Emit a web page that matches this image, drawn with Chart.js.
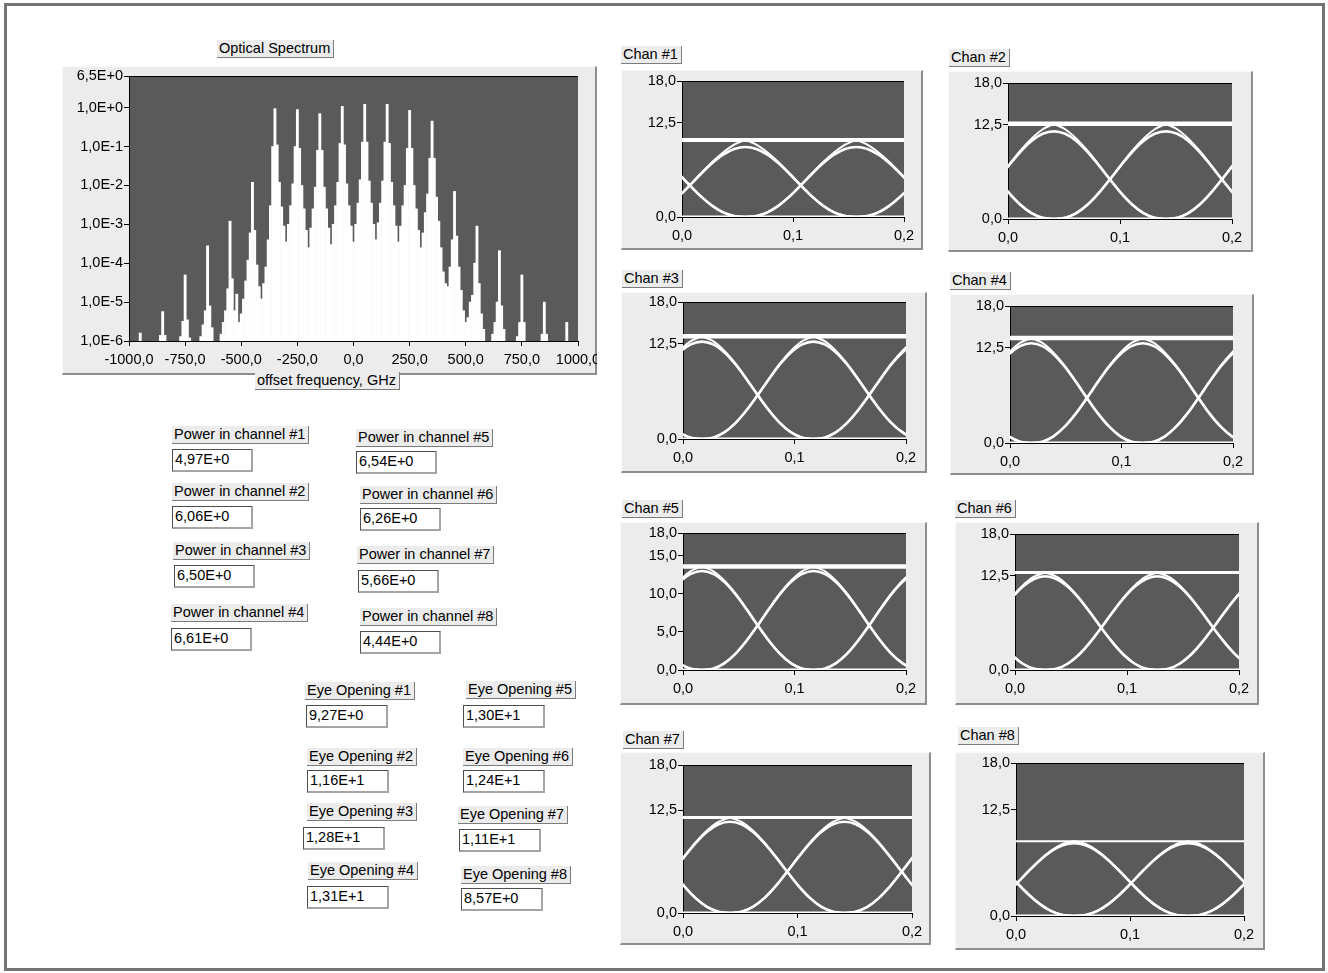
<!DOCTYPE html>
<html>
<head>
<meta charset="utf-8">
<script src="https://cdn.jsdelivr.net/npm/chart.js@4.4.1/dist/chart.umd.min.js"></script>
<style>
  html, body { margin: 0; padding: 0; background: #fff; }
  body { width: 1328px; height: 973px; position: relative; overflow: hidden;
         font-family: "Liberation Sans", Arial, sans-serif; font-size: 14.5px; color: #000; }
  .frame { position: absolute; left: 4px; top: 3px; width: 1321px; height: 968px;
           box-sizing: border-box; border: 3px solid #747474; }
  .panel { position: absolute; box-sizing: border-box; background: #ececec;
           border-style: solid; border-width: 1px 2px 2px 1px;
           border-color: #fafafa #8e8e8e #8e8e8e #fafafa; }
  canvas { position: absolute; }
  .lbl { position: absolute; height: 18px; box-sizing: border-box; background: #ececec;
         border-style: solid; border-width: 0 1px 1px 0; border-color: #7c7c7c;
         line-height: 17px; padding: 0 3px 0 2px; white-space: nowrap; z-index: 3; }
  .val { position: absolute; height: 23px; box-sizing: border-box; background: #fff;
         border-style: solid; border-width: 1px 2px 2px 1px;
         border-color: #4e4e4e #a4a4a4 #a4a4a4 #4e4e4e;
         line-height: 19px; padding-left: 2px; white-space: nowrap; z-index: 3; }
</style>
</head>
<body>
<div class="frame"></div>
<script>
// ---------------- Optical spectrum (power per 10 GHz bin, -1000 ... +1000 GHz) ----------------
const specStartGHz = -1000;
const specStepGHz = 10;
const specPower = [
  null, null, null, null, null, 1.6e-6, null, null, null, null,          // -1000 .. -910
  null, null, null, null, 1.4e-6, 5.7e-6, 1.4e-6, null, null, null,      // -900 .. -810
  null, null, null, 1.3e-6, 3.2e-6, 5e-5, 3.5e-6, 1.2e-6, null, null,    // -800 .. -710
  null, null, 1.3e-6, 2.6e-6, 6e-6, 2.8e-4, 8e-6, 2.2e-6, null, null,   // -700 .. -610
  null, 1.5e-6, 3e-6, 6e-6, 2.2e-5, 1.2e-3, 4e-5, 6e-6, 1.6e-5, 3e-6,   // -600 .. -510
  5e-6, 1.2e-5, 3.5e-5, 1.2e-4, 6e-4, 1.2e-2, 7e-4, 9e-5, 2.5e-5, 1.2e-5, // -500 .. -410
  3e-5, 8e-5, 4e-4, 3e-3, 1e-1, 0.94, 1.1e-1, 1.2e-2, 2.8e-3, 9e-4,     // -400 .. -310
  3.5e-4, 1e-3, 3e-3, 1.1e-2, 1e-1, 0.89, 9e-2, 1e-2, 2.5e-3, 7e-4,     // -300 .. -210
  2.5e-4, 8e-4, 2.5e-3, 9e-3, 8e-2, 0.70, 8e-2, 9e-3, 2.5e-3, 8e-4,     // -200 .. -110
  3e-4, 1e-3, 3e-3, 1.2e-2, 1.2e-1, 1.08, 1.1e-1, 1.1e-2, 3e-3, 9e-4,   // -100 .. -10
  3.5e-4, 1e-3, 3.5e-3, 1.4e-2, 1.3e-1, 1.22, 1.3e-1, 1.3e-2, 3.5e-3, 1e-3, // 0 .. 90
  4e-4, 1.1e-3, 3.5e-3, 1.3e-2, 1.3e-1, 1.22, 1.2e-1, 1.2e-2, 3e-3, 9e-4,  // 100 .. 190
  3.5e-4, 9e-4, 3e-3, 1e-2, 9e-2, 0.85, 9e-2, 1e-2, 2.5e-3, 7e-4,       // 200 .. 290
  2.5e-4, 6e-4, 2e-3, 6e-3, 5e-2, 0.45, 5e-2, 5e-3, 1.2e-3, 2.5e-4,     // 300 .. 390
  6e-5, 3e-5, 2.5e-5, 8e-5, 4e-4, 7e-3, 5e-4, 8e-5, 2e-5, 6e-6,         // 400 .. 490
  3e-6, 4e-6, 1e-5, 1.5e-5, 1e-4, 9e-4, 3e-5, 5e-6, 2e-6, null,         // 500 .. 590
  null, null, 1.5e-6, 3e-6, 1e-5, 2.1e-4, 8e-6, 2e-6, null, null,       // 600 .. 690
  null, null, null, 1.3e-6, 3e-6, 5e-5, 3e-6, null, null, null,         // 700 .. 790
  null, null, null, null, 1.5e-6, 1e-5, 1.5e-6, null, null, null,       // 800 .. 890
  null, null, null, null, null, 3e-6, null, null, null, null,           // 900 .. 990
  null                                                                   // 1000
];
const spectrumYTicks = [1e-6, 1e-5, 1e-4, 1e-3, 1e-2, 1e-1, 1, 6.5];

// ---------------- Channel read-outs ----------------
const channelPower = [4.97, 6.06, 6.50, 6.61, 6.54, 6.26, 5.66, 4.44];
const eyeOpening  = [9.27, 11.6, 12.8, 13.1, 13.0, 12.4, 11.1, 8.57];

// ---------------- Eye diagrams (time in ns, amplitude) ----------------
const eyeOffsets = [-0.10, -0.09, -0.08, -0.07, -0.06, -0.05, -0.04, -0.03, -0.02, -0.01, 0,
                    0.01, 0.02, 0.03, 0.04, 0.05, 0.06, 0.07, 0.08, 0.09, 0.10];
const eyeCenter = [0.057, 0.041, 0.017, 0.019, 0.017, 0.027, 0.041, 0.051];
const oneLevel  = [10.2, 12.6, 13.5, 13.8, 13.6, 12.9, 11.6, 8.8];

// isolated "1" between zeros, sampled at eyeOffsets
const chan1Pulse = [0, 0.13, 0.62, 1.51, 2.73, 4.18, 5.69, 7.11, 8.26, 9.01, 9.27, 9.01, 8.26, 7.11, 5.69, 4.18, 2.73, 1.51, 0.62, 0.13, 0];
const chan2Pulse = [0, 0.16, 0.78, 1.89, 3.42, 5.23, 7.12, 8.90, 10.34, 11.28, 11.6, 11.28, 10.34, 8.90, 7.12, 5.23, 3.42, 1.89, 0.78, 0.16, 0];
const chan3Pulse = [0, 0.18, 0.86, 2.09, 3.78, 5.77, 7.86, 9.82, 11.40, 12.44, 12.8, 12.44, 11.40, 9.82, 7.86, 5.77, 3.78, 2.09, 0.86, 0.18, 0];
const chan4Pulse = [0, 0.18, 0.88, 2.14, 3.86, 5.91, 8.04, 10.05, 11.67, 12.73, 13.1, 12.73, 11.67, 10.05, 8.04, 5.91, 3.86, 2.14, 0.88, 0.18, 0];
const chan5Pulse = [0, 0.18, 0.87, 2.12, 3.84, 5.86, 7.98, 9.97, 11.58, 12.64, 13.0, 12.64, 11.58, 9.97, 7.98, 5.86, 3.84, 2.12, 0.87, 0.18, 0];
const chan6Pulse = [0, 0.17, 0.83, 2.02, 3.66, 5.59, 7.61, 9.51, 11.05, 12.05, 12.4, 12.05, 11.05, 9.51, 7.61, 5.59, 3.66, 2.02, 0.83, 0.17, 0];
const chan7Pulse = [0, 0.16, 0.74, 1.81, 3.27, 5.01, 6.82, 8.51, 9.89, 10.79, 11.1, 10.79, 9.89, 8.51, 6.82, 5.01, 3.27, 1.81, 0.74, 0.16, 0];
const chan8Pulse = [0, 0.12, 0.57, 1.40, 2.53, 3.87, 5.26, 6.57, 7.64, 8.33, 8.57, 8.33, 7.64, 6.57, 5.26, 3.87, 2.53, 1.40, 0.57, 0.12, 0];

// falling edge from a run of ones to zero, sampled at eyeOffsets 0 ... 0.10
const chan1Edge = [10.2, 9.57, 8.54, 7.25, 5.76, 4.23, 2.76, 1.53, 0.63, 0.13, 0];
const chan2Edge = [12.6, 11.88, 10.64, 9.05, 7.20, 5.28, 3.45, 1.91, 0.79, 0.16, 0];
const chan3Edge = [13.5, 12.86, 11.61, 9.93, 7.92, 5.81, 3.80, 2.10, 0.87, 0.18, 0];
const chan4Edge = [13.8, 13.15, 11.88, 10.16, 8.10, 5.95, 3.88, 2.15, 0.89, 0.18, 0];
const chan5Edge = [13.6, 13.00, 11.76, 10.06, 8.03, 5.89, 3.86, 2.13, 0.88, 0.18, 0];
const chan6Edge = [12.9, 12.35, 11.20, 9.59, 7.65, 5.62, 3.68, 2.03, 0.83, 0.17, 0];
const chan7Edge = [11.6, 11.09, 10.04, 8.59, 6.86, 5.04, 3.29, 1.82, 0.74, 0.16, 0];
const chan8Edge = [8.8, 8.47, 7.71, 6.60, 5.28, 3.88, 2.54, 1.40, 0.57, 0.12, 0];

const eyeYTicks = [0, 12.5, 18];
const chan5YTicks = [0, 5, 10, 15, 18];

// ---------------- Page layout (pixels) ----------------
const spectrumBox = { panel: [62, 66, 597, 375], plot: [129, 76, 578, 341] };
const eyeBoxes = [
  { panel: [621, 70, 923, 250],  plot: [682, 81, 904, 217],   label: [621, 46] },
  { panel: [948, 71, 1253, 252], plot: [1008, 83, 1232, 219], label: [949, 49] },
  { panel: [621, 292, 927, 473], plot: [683, 302, 906, 439],  label: [622, 270] },
  { panel: [950, 294, 1254, 475], plot: [1010, 306, 1233, 443], label: [950, 272] },
  { panel: [620, 522, 927, 705], plot: [683, 533, 906, 670],  label: [622, 500] },
  { panel: [955, 522, 1259, 705], plot: [1015, 534, 1239, 670], label: [955, 500] },
  { panel: [620, 752, 931, 945], plot: [683, 765, 912, 913],  label: [623, 731] },
  { panel: [955, 752, 1265, 950], plot: [1016, 763, 1244, 916], label: [958, 727] }
];
const oneLineWidth = [4, 4.5, 4.5, 4.5, 4.5, 3, 3, 2];
const powerSpots = [
  [172, 426, 172, 449], [172, 483, 172, 506], [173, 542, 174, 565], [171, 604, 171, 628],
  [356, 429, 356, 451], [360, 486, 360, 508], [357, 546, 358, 570], [360, 608, 360, 631]
];
const eyeSpots = [
  [305, 682, 306, 705], [307, 748, 307, 770], [307, 803, 303, 827], [308, 862, 307, 886],
  [466, 681, 463, 705], [463, 748, 463, 770], [458, 806, 459, 829], [461, 866, 461, 888]
];

// ---------------- helpers ----------------
Chart.defaults.font.family = '"Liberation Sans", Arial, sans-serif';
Chart.defaults.font.size = 14.5;
Chart.defaults.color = '#000';

function addDiv(cls, x, y, text, w) {
  const d = document.createElement('div');
  d.className = cls;
  d.style.left = x + 'px';
  d.style.top = y + 'px';
  if (w) d.style.width = w + 'px';
  d.textContent = text;
  document.body.appendChild(d);
  return d;
}
function addPanel(r) {
  const d = document.createElement('div');
  d.className = 'panel';
  d.style.left = r[0] + 'px'; d.style.top = r[1] + 'px';
  d.style.width = (r[2] - r[0]) + 'px'; d.style.height = (r[3] - r[1]) + 'px';
  document.body.appendChild(d);
}
function addCanvas(r) {
  const c = document.createElement('canvas');
  const w = r[2] - r[0], h = r[3] - r[1];
  c.width = w; c.height = h;
  c.style.left = r[0] + 'px'; c.style.top = r[1] + 'px';
  c.style.width = w + 'px'; c.style.height = h + 'px';
  c.style.zIndex = 2;
  document.body.appendChild(c);
  return c;
}
function commaFixed(v, d) { return v.toFixed(d).replace('.', ','); }
function sciLabel(v, d) {
  const e = Math.floor(Math.log10(v) + 1e-9);
  const m = v / Math.pow(10, e);
  return commaFixed(m, d) + 'E' + (e >= 0 ? '+' : '') + e;
}

// dark plot area with a black top edge
const plotBackground = {
  id: 'plotBackground',
  beforeDraw(chart) {
    const a = chart.chartArea, ctx = chart.ctx;
    ctx.save();
    ctx.fillStyle = '#5a5a5a';
    ctx.fillRect(a.left, a.top, a.right - a.left, a.bottom - a.top);
    ctx.strokeStyle = '#000';
    ctx.lineWidth = 1;
    ctx.beginPath();
    ctx.moveTo(a.left, a.top + 0.5);
    ctx.lineTo(a.right, a.top + 0.5);
    ctx.stroke();
    ctx.restore();
  }
};

function axisGrid() {
  return { display: true, drawOnChartArea: false, drawTicks: true, tickLength: 5,
           color: '#000', lineWidth: 1 };
}
function fixWidth(w) {
  return function (s) { s.width = w; s.paddingTop = 0; s.paddingBottom = 0; s.paddingLeft = 0; s.paddingRight = 0; };
}
function fixHeight(h) {
  return function (s) { s.height = h; s.paddingLeft = 0; s.paddingRight = 0; s.paddingTop = 0; s.paddingBottom = 0; };
}

// ---------------- spectrum ----------------
(function () {
  const P = spectrumBox.panel, A = spectrumBox.plot;
  addPanel(P);
  const cv = addCanvas(P);
  const pts = [];
  specPower.forEach((p, i) => { if (p !== null) pts.push({ x: specStartGHz + i * specStepGHz, y: p }); });
  new Chart(cv, {
    type: 'bar',
    data: { datasets: [{ data: pts, backgroundColor: '#ffffff', borderWidth: 0, barThickness: 2.2 }] },
    options: {
      animation: false, responsive: false, devicePixelRatio: 1,
      layout: { padding: { left: 0, top: A[1] - P[1], right: P[2] - A[2], bottom: 0 } },
      plugins: { legend: { display: false }, tooltip: { enabled: false } },
      scales: {
        x: {
          type: 'linear', min: -1000, max: 1000, offset: false,
          grid: Object.assign(axisGrid(), { offset: false }),
          border: { display: true, color: '#000', width: 1 },
          ticks: { stepSize: 250, autoSkip: false, maxRotation: 0, padding: 5,
                   callback: v => commaFixed(v, 1) },
          afterFit: fixHeight(P[3] - A[3])
        },
        y: {
          type: 'logarithmic', min: 1e-6, max: 6.5,
          grid: axisGrid(),
          border: { display: true, color: '#000', width: 1 },
          afterBuildTicks: ax => { ax.ticks = spectrumYTicks.map(v => ({ value: v })); },
          ticks: { autoSkip: false, padding: 1, callback: v => sciLabel(v, 1) },
          afterFit: fixWidth(A[0] - P[0])
        }
      }
    },
    plugins: [plotBackground]
  });
  addDiv('lbl', 217, 40, 'Optical Spectrum');
  addDiv('lbl', 255, 372, 'offset frequency, GHz');
})();

// ---------------- eye diagrams ----------------
const chanPulses = [chan1Pulse, chan2Pulse, chan3Pulse, chan4Pulse, chan5Pulse, chan6Pulse, chan7Pulse, chan8Pulse];
const chanEdges  = [chan1Edge, chan2Edge, chan3Edge, chan4Edge, chan5Edge, chan6Edge, chan7Edge, chan8Edge];

function traceStyle(w) {
  return { showLine: true, borderColor: '#ffffff', borderWidth: w, pointRadius: 0,
           cubicInterpolationMode: 'monotone', clip: 0, fill: false };
}

eyeBoxes.forEach((box, k) => {
  const P = box.panel, A = box.plot;
  addPanel(P);
  addDiv('lbl', box.label[0], box.label[1], 'Chan #' + (k + 1));
  const cv = addCanvas(P);
  const pulse = chanPulses[k], edge = chanEdges[k], c0 = eyeCenter[k];
  const edgeOffsets = eyeOffsets.slice(10);
  const sets = [];
  [c0 - 0.2, c0 - 0.1, c0, c0 + 0.1, c0 + 0.2].forEach(c => {
    sets.push(Object.assign(traceStyle(2.6), { data: eyeOffsets.map((o, i) => ({ x: c + o, y: pulse[i] })) }));
    sets.push(Object.assign(traceStyle(2), { data: edgeOffsets.map((o, i) => ({ x: c + o, y: edge[i] })) }));
    sets.push(Object.assign(traceStyle(2), { data: edgeOffsets.map((o, i) => ({ x: c - o, y: edge[i] })) }));
  });
  sets.push(Object.assign(traceStyle(oneLineWidth[k]), { data: [{ x: 0, y: oneLevel[k] }, { x: 0.2, y: oneLevel[k] }] }));
  sets.push(Object.assign(traceStyle(3), { data: [{ x: 0, y: 0 }, { x: 0.2, y: 0 }] }));
  const yTicks = (k === 4) ? chan5YTicks : eyeYTicks;
  new Chart(cv, {
    type: 'scatter',
    data: { datasets: sets },
    options: {
      animation: false, responsive: false, devicePixelRatio: 1,
      layout: { padding: { left: 0, top: A[1] - P[1], right: P[2] - A[2], bottom: 0 } },
      plugins: { legend: { display: false }, tooltip: { enabled: false } },
      scales: {
        x: {
          type: 'linear', min: 0, max: 0.2,
          grid: axisGrid(),
          border: { display: true, color: '#000', width: 1 },
          ticks: { stepSize: 0.1, autoSkip: false, maxRotation: 0, padding: 5,
                   callback: v => commaFixed(v, 1) },
          afterFit: fixHeight(P[3] - A[3])
        },
        y: {
          type: 'linear', min: 0, max: 18,
          grid: axisGrid(),
          border: { display: true, color: '#000', width: 1 },
          afterBuildTicks: ax => { ax.ticks = yTicks.map(v => ({ value: v })); },
          ticks: { autoSkip: false, padding: 1, callback: v => commaFixed(v, 1) },
          afterFit: fixWidth(A[0] - P[0])
        }
      }
    },
    plugins: [plotBackground]
  });
});

// ---------------- numeric indicators ----------------
channelPower.forEach((v, k) => {
  const s = powerSpots[k];
  addDiv('lbl', s[0], s[1], 'Power in channel #' + (k + 1));
  addDiv('val', s[2], s[3], sciLabel(v, 2), 81);
});
eyeOpening.forEach((v, k) => {
  const s = eyeSpots[k];
  addDiv('lbl', s[0], s[1], 'Eye Opening #' + (k + 1));
  addDiv('val', s[2], s[3], sciLabel(v, 2), 82);
});
</script>
</body>
</html>
